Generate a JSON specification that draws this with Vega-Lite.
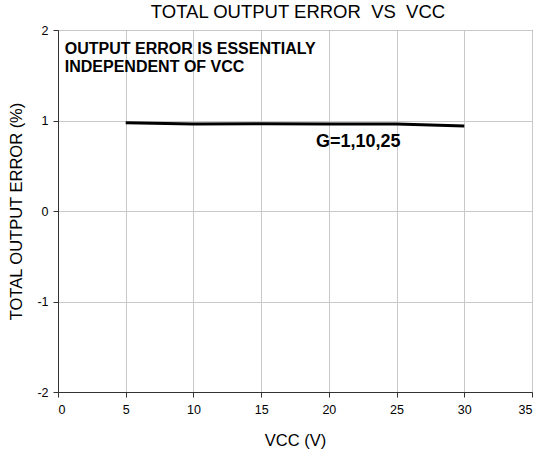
{
  "$schema": "https://vega.github.io/schema/vega-lite/v6.json",
  "width": 474,
  "height": 362,
  "autosize": "none",
  "padding": {"left": 58, "top": 30, "right": 7, "bottom": 65},
  "background": "white",
  "title": {"text": "TOTAL OUTPUT ERROR\u00a0 VS\u00a0 VCC", "font": "Liberation Sans", "fontSize": 18.5, "fontWeight": "normal", "color": "#000", "offset": 3, "anchor": "middle", "dx": 3},
  "config": {
    "view": {"stroke": "#555", "strokeWidth": 1},
    "axis": {"labelFont": "Liberation Sans", "titleFont": "Liberation Sans", "labelFontSize": 12.5, "titleFontSize": 16.5, "titleFontWeight": "normal", "labelColor": "#000", "titleColor": "#000", "gridColor": "#c8c8c8", "gridWidth": 1, "domainColor": "#333", "tickColor": "#333"}
  },
  "datasets": {
    "curve": [
      {"vcc": 5, "err": 0.975},
      {"vcc": 10, "err": 0.96},
      {"vcc": 15, "err": 0.965},
      {"vcc": 20, "err": 0.96},
      {"vcc": 25, "err": 0.96},
      {"vcc": 30, "err": 0.94}
    ],
    "notes": [
      {"vcc": 0.5, "err": 1.79, "label": "OUTPUT ERROR IS ESSENTIALY"},
      {"vcc": 0.5, "err": 1.59, "label": "INDEPENDENT OF VCC"}
    ],
    "glabel": [
      {"vcc": 19.05, "err": 0.76, "label": "G=1,10,25"}
    ]
  },
  "layer": [
    {
      "data": {"name": "curve"},
      "mark": {"type": "line", "color": "#000", "strokeWidth": 3},
      "encoding": {
        "x": {"field": "vcc", "type": "quantitative", "scale": {"domain": [0, 35], "nice": false}, "axis": {"values": [0,5,10,15,20,25,30,35], "labelExpr": "datum.value + ''", "title": "VCC (V)", "titlePadding": 17, "labelPadding": 6, "tickSize": 5}},
        "y": {"field": "err", "type": "quantitative", "scale": {"domain": [-2, 2], "nice": false}, "axis": {"values": [-2,-1,0,1,2], "labelExpr": "datum.value + ''", "title": "TOTAL OUTPUT ERROR (%)", "titlePadding": 12, "tickSize": 5, "labelPadding": 5}}
      }
    },
    {
      "data": {"name": "notes"},
      "mark": {"type": "text", "align": "left", "baseline": "middle", "font": "Liberation Sans", "fontSize": 16, "fontWeight": "bold", "color": "#000"},
      "encoding": {
        "x": {"field": "vcc", "type": "quantitative"},
        "y": {"field": "err", "type": "quantitative"},
        "text": {"field": "label"}
      }
    },
    {
      "data": {"name": "glabel"},
      "mark": {"type": "text", "align": "left", "baseline": "middle", "font": "Liberation Sans", "fontSize": 18, "fontWeight": "bold", "color": "#000"},
      "encoding": {
        "x": {"field": "vcc", "type": "quantitative"},
        "y": {"field": "err", "type": "quantitative"},
        "text": {"field": "label"}
      }
    }
  ]
}
